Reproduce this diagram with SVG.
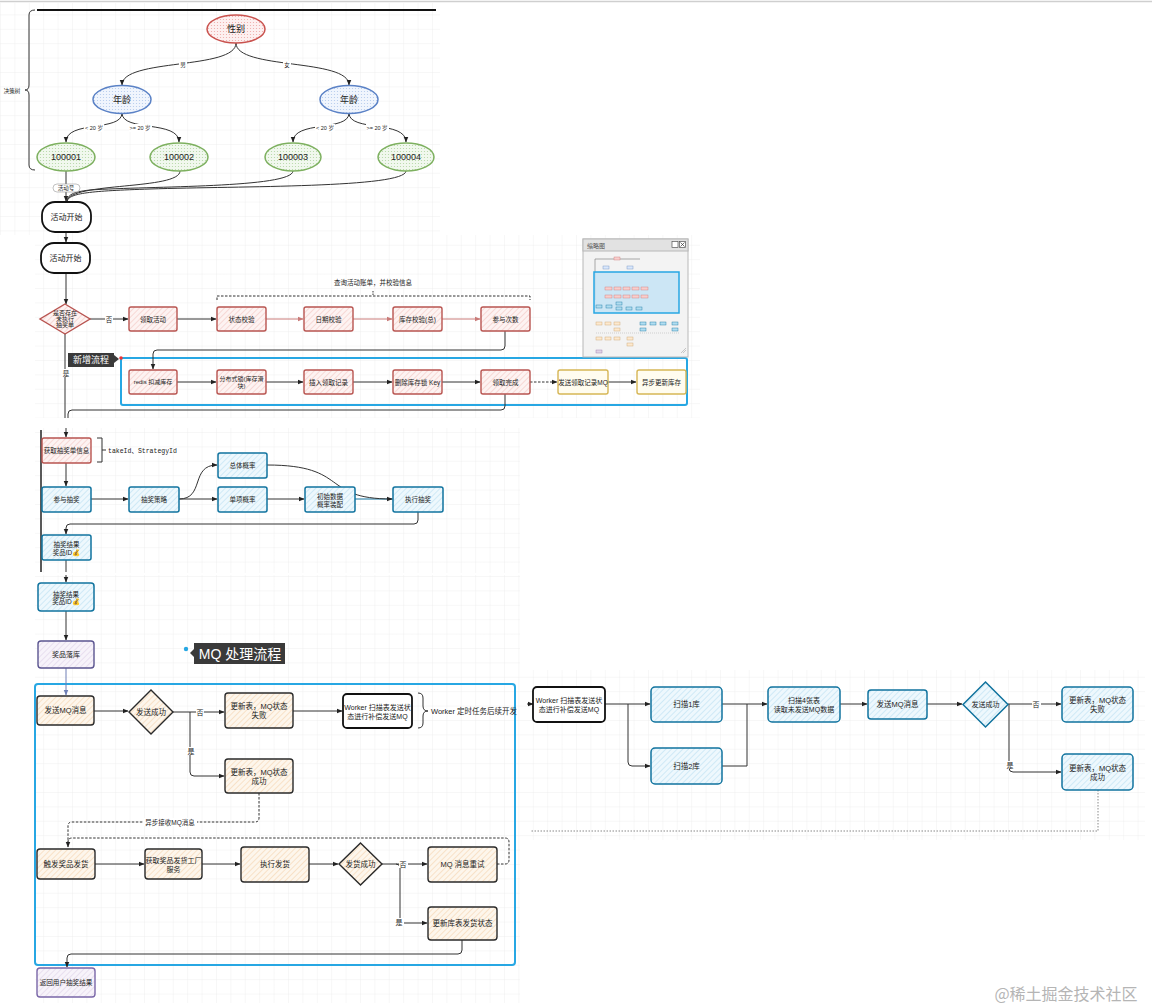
<svg xmlns="http://www.w3.org/2000/svg" width="1152" height="1008" viewBox="0 0 1152 1008">
<defs>
<pattern id="grid" width="14.4" height="14.4" patternUnits="userSpaceOnUse"><path d="M14.4 0 L0 0 0 14.4" fill="none" stroke="#e9e9e9" stroke-width="0.7"/></pattern>
<pattern id="hR" width="4" height="4" patternUnits="userSpaceOnUse" patternTransform="rotate(45)"><rect width="4" height="4" fill="#fdf3f2"/><line x1="0" y1="0" x2="0" y2="4" stroke="#f1b8b1" stroke-width="0.9"/></pattern>
<pattern id="hB" width="4" height="4" patternUnits="userSpaceOnUse" patternTransform="rotate(45)"><rect width="4" height="4" fill="#eef8fd"/><line x1="0" y1="0" x2="0" y2="4" stroke="#a9d7ee" stroke-width="0.9"/></pattern>
<pattern id="hO" width="4" height="4" patternUnits="userSpaceOnUse" patternTransform="rotate(45)"><rect width="4" height="4" fill="#fdf6ec"/><line x1="0" y1="0" x2="0" y2="4" stroke="#f3c79a" stroke-width="0.9"/></pattern>
<pattern id="hP" width="4" height="4" patternUnits="userSpaceOnUse" patternTransform="rotate(45)"><rect width="4" height="4" fill="#f7f3fa"/><line x1="0" y1="0" x2="0" y2="4" stroke="#d6c8e2" stroke-width="0.9"/></pattern>
<pattern id="dR" width="3" height="3" patternUnits="userSpaceOnUse"><rect width="3" height="3" fill="#fdf0f0"/><circle cx="1.5" cy="1.5" r="0.6" fill="#eea9a6"/></pattern>
<pattern id="dB" width="3" height="3" patternUnits="userSpaceOnUse"><rect width="3" height="3" fill="#f0f5fd"/><circle cx="1.5" cy="1.5" r="0.6" fill="#b2c9ec"/></pattern>
<pattern id="dG" width="3" height="3" patternUnits="userSpaceOnUse"><rect width="3" height="3" fill="#f1f8ee"/><circle cx="1.5" cy="1.5" r="0.6" fill="#b3d7a3"/></pattern>
<marker id="a" viewBox="0 0 10 10" refX="9" refY="5" markerWidth="6" markerHeight="6" markerUnits="userSpaceOnUse" orient="auto"><path d="M0,1 L10,5 L0,9 Z" fill="#222"/></marker>
<marker id="ar" viewBox="0 0 10 10" refX="9" refY="5" markerWidth="6" markerHeight="6" markerUnits="userSpaceOnUse" orient="auto"><path d="M0,1 L10,5 L0,9 Z" fill="#c97a78"/></marker>
<marker id="ab" viewBox="0 0 10 10" refX="9" refY="5" markerWidth="6" markerHeight="6" markerUnits="userSpaceOnUse" orient="auto"><path d="M0,1 L10,5 L0,9 Z" fill="#6f7fb5"/></marker>
<style>
text{font-family:"Liberation Sans","Noto Sans CJK SC",sans-serif;fill:#222;text-anchor:middle;dominant-baseline:central}
.t5{font-size:5.5px}.t6{font-size:6.5px}.t7{font-size:7px}.t75{font-size:7.5px}.t8{font-size:8px}.t9{font-size:9px}
.r{fill:url(#hR);stroke:#b85450;stroke-width:1.4}
.b{fill:url(#hB);stroke:#10739e;stroke-width:1.5}
.o{fill:url(#hO);stroke:#2a2a2a;stroke-width:1.4}
.p{fill:url(#hP);stroke:#7a67a8;stroke-width:1.4}
.y{fill:#fffcef;stroke:#d6b656;stroke-width:1.4}
.w{fill:#fff;stroke:#111;stroke-width:1.8}
.eR{fill:url(#dR);stroke:#c9524e;stroke-width:1.5}
.eB{fill:url(#dB);stroke:#5b82c6;stroke-width:1.5}
.eG{fill:url(#dG);stroke:#7db05f;stroke-width:1.5}
.e{fill:none;stroke:#333;stroke-width:1}
.er{fill:none;stroke:#c97a78;stroke-width:1}
.dash{fill:none;stroke:#333;stroke-width:1;stroke-dasharray:2.5 1.5}
.lbl{fill:#fff}
</style>
</defs>

<rect width="1152" height="1008" fill="#fff"/>
<line x1="0" y1="1.5" x2="1152" y2="1.5" stroke="#cfcfcf" stroke-width="1.5"/>
<rect x="0" y="3" width="440" height="232" fill="url(#grid)"/>
<rect x="35" y="235" width="665" height="183" fill="url(#grid)"/>
<rect x="35" y="428" width="485" height="145" fill="url(#grid)"/>
<rect x="35" y="575" width="485" height="428" fill="url(#grid)"/>
<rect x="520" y="670" width="625" height="170" fill="url(#grid)"/>

<!-- decoration -->
<line x1="37" y1="10" x2="436" y2="10" stroke="#111" stroke-width="2"/>
<path d="M35,10 Q29,10 29,15 L29,85 Q29,90 25,90 Q29,90 29,95 L29,165 Q29,170 35,170" fill="none" stroke="#333" stroke-width="1"/>
<text x="12" y="91" class="t5">决策树</text>
<line x1="41" y1="430" x2="41" y2="572" stroke="#222" stroke-width="1.5"/>

<!-- containers -->
<rect x="121" y="358" width="566" height="47" rx="2" fill="none" stroke="#27a7e3" stroke-width="2"/>
<rect x="35" y="684" width="480" height="281" rx="3" fill="none" stroke="#27a7e3" stroke-width="2"/>

<g id="edges">
<path class="e" d="M236,43 C236,70 122,58 122,85" marker-end="url(#a)"/>
<path class="e" d="M236,43 C236,70 349,58 349,85" marker-end="url(#a)"/>
<path class="e" d="M122,113 C122,132 66,120 66,142" marker-end="url(#a)"/>
<path class="e" d="M122,113 C122,132 179,120 179,142" marker-end="url(#a)"/>
<path class="e" d="M349,113 C349,132 293,120 293,142" marker-end="url(#a)"/>
<path class="e" d="M349,113 C349,132 406,120 406,142" marker-end="url(#a)"/>
<path class="e" d="M66,171 L66,201" marker-end="url(#a)"/>
<path class="e" d="M180,171 C180,190 70,182 67,201"/>
<path class="e" d="M293,171 C292,188 150,186 90,190 C72,192 68,195 67,201"/>
<path class="e" d="M406,171 C405,188 240,186 150,189 C90,191 70,193 67,201"/>
<path class="e" d="M66,232 L66,242" marker-end="url(#a)"/>
<path class="e" d="M66,273 L66,304" marker-end="url(#a)"/>
<path class="e" d="M89,319 L128,319" marker-end="url(#a)"/>
<path class="e" d="M177,319 L216,319" marker-end="url(#a)"/>
<path class="er" d="M266,319 L303,319" marker-end="url(#ar)"/>
<path class="er" d="M353,319 L392,319" marker-end="url(#ar)"/>
<path class="er" d="M442,319 L480,319" marker-end="url(#ar)"/>
<path class="dash" d="M217,300 L217,296 L530,296 L530,300"/>
<line x1="373" y1="291" x2="373" y2="296" stroke="#333" stroke-width="1" stroke-dasharray="1.5 1"/>
<path class="e" d="M505,331 L505,346 Q505,350 501,350 L157,350 Q153,350 153,354 L153,369" marker-end="url(#a)"/>
<path class="e" d="M177,382 L216,382" marker-end="url(#a)"/>
<path class="e" d="M266,382 L303,382" marker-end="url(#a)"/>
<path class="e" d="M353,382 L392,382" marker-end="url(#a)"/>
<path class="e" d="M442,382 L480,382" marker-end="url(#a)"/>
<path class="dash" d="M530,382 L557,382" marker-end="url(#a)"/>
<path class="e" d="M608,382 L636,382" marker-end="url(#a)"/>
<path class="e" d="M505,394 L505,406 Q505,410 501,410 L72,410 Q68,410 68,414 L68,418"/>
<path class="e" d="M65,333 L65,418"/>
<path class="e" d="M66,428 L66,437" marker-end="url(#a)"/>
<path class="e" d="M97,438 L102,438 L102,462 L97,462 M102,450 L106,450"/>
<path class="e" d="M66,463 L66,486" marker-end="url(#a)"/>
<path class="e" d="M91,499 L128,499" marker-end="url(#a)"/>
<path class="e" d="M179,499 L217,499" marker-end="url(#a)"/>
<path class="e" d="M179,499 C205,499 190,465 217,465" marker-end="url(#a)"/>
<path class="e" d="M267,499 L304,499" marker-end="url(#a)"/>
<path d="M355,499 L393,499" fill="none" stroke="#10739e" stroke-width="1"/>
<path class="e" d="M267,465 C350,465 320,499 392,499" marker-end="url(#a)"/>
<path class="e" d="M418,512 L418,520 Q418,524 414,524 L70,524 Q66,524 66,528 L66,534" marker-end="url(#a)"/>
<path class="e" d="M66,560 L66,572"/>
<path class="e" d="M66,575 L66,582" marker-end="url(#a)"/>
<path class="e" d="M66,611 L66,640" marker-end="url(#a)"/>
<path d="M66,668 L66,695" fill="none" stroke="#6f7fb5" stroke-width="1" marker-end="url(#ab)"/>
<path class="e" d="M94,711 L128,711" marker-end="url(#a)"/>
<path class="e" d="M173,712 L224,712" marker-end="url(#a)"/>
<path class="e" d="M190,712 L190,772 Q190,776 194,776 L224,776" marker-end="url(#a)"/>
<path class="e" d="M293,711 L342,711" marker-end="url(#a)"/>
<path class="e" d="M418,693 Q423,693 423,698 L423,706 Q423,711 428,711 Q423,711 423,716 L423,723 Q423,728 418,728"/>
<path class="dash" d="M259,793 L259,818 Q259,822 255,822 L72,822 Q68,822 68,826 L68,847" marker-end="url(#a)"/>
<path class="dash" d="M497,864 L505,864 Q509,864 509,860 L509,842 Q509,838 505,838 L72,838 Q68,838 68,842"/>
<path class="e" d="M95,864 L144,864" marker-end="url(#a)"/>
<path class="e" d="M202,864 L240,864" marker-end="url(#a)"/>
<path class="e" d="M309,864 L338,864" marker-end="url(#a)"/>
<path class="e" d="M382,864 L427,864" marker-end="url(#a)"/>
<path class="e" d="M396,864 Q400,864 400,868 L400,919 Q400,923 404,923 L427,923" marker-end="url(#a)"/>
<path class="e" d="M462,940 L462,950 Q462,954 458,954 L71,954 Q67,954 67,958 L67,967" marker-end="url(#a)"/>
<path class="e" d="M527,704 L533,704" marker-end="url(#a)"/>
<path class="e" d="M605,704 L650,704" marker-end="url(#a)"/>
<path class="e" d="M628,704 L628,762 Q628,766 632,766 L650,766" marker-end="url(#a)"/>
<path class="e" d="M722,704 L767,704" marker-end="url(#a)"/>
<path class="e" d="M722,766 L747,766 L747,704"/>
<path class="e" d="M840,704 L867,704" marker-end="url(#a)"/>
<path class="e" d="M927,704 L962,704" marker-end="url(#a)"/>
<path class="e" d="M1008,704 L1061,704" marker-end="url(#a)"/>
<path class="e" d="M1009,704 L1009,768 Q1009,772 1013,772 L1061,772" marker-end="url(#a)"/>
<path d="M1098,790 L1098,831 L530,831" fill="none" stroke="#888" stroke-width="1" stroke-dasharray="1.5 1.5"/>
<!-- edge labels -->
<rect x="179" y="61" width="8" height="8" class="lbl"/><text x="183" y="65" class="t5">男</text>
<rect x="283" y="61" width="8" height="8" class="lbl"/><text x="287" y="65" class="t5">女</text>
<rect x="84" y="124" width="20" height="8" class="lbl"/><text x="94" y="128" class="t5">&lt; 20 岁</text>
<rect x="129" y="124" width="23" height="8" class="lbl"/><text x="140" y="128" class="t5">&gt;= 20 岁</text>
<rect x="315" y="124" width="20" height="8" class="lbl"/><text x="325" y="128" class="t5">&lt; 20 岁</text>
<rect x="366" y="124" width="23" height="8" class="lbl"/><text x="377" y="128" class="t5">&gt;= 20 岁</text>
<rect x="53" y="184" width="27" height="8" rx="4" fill="#fff" stroke="#999" stroke-width="0.6"/><text x="66" y="188" class="t5">活动号</text>
<rect x="105" y="315" width="8" height="8" class="lbl"/><text x="109" y="319" class="t6">否</text>
<rect x="61" y="369" width="9" height="8" class="lbl"/><text x="66" y="373" class="t6">是</text>
<text x="373" y="282" class="t6">查询活动账单，并校验信息</text>
<text x="108" y="451" class="t6" style="text-anchor:start;font-family:'Liberation Mono','DejaVu Sans Mono','Noto Sans CJK SC',monospace">takeId、StrategyId</text>
<rect x="196" y="708" width="8" height="8" class="lbl"/><text x="200" y="712" class="t7">否</text>
<rect x="186" y="747" width="9" height="8" class="lbl"/><text x="191" y="751" class="t7">是</text>
<text x="474" y="711" class="t75">Worker 定时任务后续开发</text>
<rect x="143" y="818" width="54" height="8" class="lbl"/><text x="170" y="822" class="t6">异步接收MQ消息</text>
<rect x="399" y="860" width="9" height="8" class="lbl"/><text x="403" y="864" class="t7">否</text>
<rect x="395" y="918" width="9" height="8" class="lbl"/><text x="399" y="922" class="t7">是</text>
<rect x="1032" y="700" width="9" height="8" class="lbl"/><text x="1036" y="704" class="t7">否</text>
<rect x="1006" y="761" width="9" height="8" class="lbl"/><text x="1010" y="765" class="t7">是</text>
</g>

<!-- decision tree -->
<g id="n-gender"><ellipse cx="236" cy="29" rx="29" ry="14" class="eR"/><text x="236" y="29" class="t9">性别</text></g>
<g id="n-age-l"><ellipse cx="122" cy="99.5" rx="29" ry="14" class="eB"/><text x="122" y="99.5" class="t9">年龄</text></g>
<g id="n-age-r"><ellipse cx="349" cy="99.5" rx="29" ry="14" class="eB"/><text x="349" y="99.5" class="t9">年龄</text></g>
<g id="n-100001"><ellipse cx="66" cy="157" rx="29" ry="14" class="eG"/><text x="66" y="157" class="t9">100001</text></g>
<g id="n-100002"><ellipse cx="179" cy="157" rx="29" ry="14" class="eG"/><text x="179" y="157" class="t9">100002</text></g>
<g id="n-100003"><ellipse cx="293" cy="157" rx="28" ry="14" class="eG"/><text x="293" y="157" class="t9">100003</text></g>
<g id="n-100004"><ellipse cx="406" cy="157" rx="28" ry="14" class="eG"/><text x="406" y="157" class="t9">100004</text></g>
<g id="n-start1"><rect x="42" y="202" width="49" height="30" rx="13" class="w"/><text x="66.5" y="217" class="t8">活动开始</text></g>

<!-- activity flow -->
<g id="n-start2"><rect x="41" y="243" width="49" height="30" rx="13" class="w"/><text x="65.5" y="258" class="t8">活动开始</text></g>
<g id="n-exist"><polygon points="65,304 90,319 65,334 40,319" class="r"/><text x="65" y="319" style="font-size:6px"><tspan x="65" dy="-6.3">是否存在</tspan><tspan x="65" dy="6.3">未执行</tspan><tspan x="65" dy="6.3">抽奖单</tspan></text></g>
<g id="n-take"><rect x="129" y="307" width="48" height="24" rx="2" class="r"/><text x="153" y="319" class="t6">领取活动</text></g>
<g id="n-state"><rect x="217" y="307" width="49" height="24" rx="2" class="r"/><text x="241.5" y="319" class="t6">状态校验</text></g>
<g id="n-date"><rect x="304" y="307" width="49" height="24" rx="2" class="r"/><text x="328.5" y="319" class="t6">日期校验</text></g>
<g id="n-stock"><rect x="393" y="307" width="49" height="24" rx="2" class="r"/><text x="417.5" y="319" class="t6">库存校验(总)</text></g>
<g id="n-count"><rect x="481" y="307" width="49" height="24" rx="2" class="r"/><text x="505.5" y="319" class="t6">参与次数</text></g>
<g id="n-tag-new"><path d="M68,353 L114,353 L114,355 L119,359 L114,363 L114,367 L68,367 Z" fill="#3a3a3a"/><text x="91" y="360" class="t9" style="fill:#fff">新增流程</text><circle cx="121" cy="358" r="1.8" fill="#e33"/></g>
<g id="n-redis"><rect x="129" y="370" width="48" height="24" rx="2" class="r"/><text x="153" y="382" style="font-size:6px">redis 扣减库存</text></g>
<g id="n-lock"><rect x="217" y="370" width="49" height="24" rx="2" class="r"/><text x="241.5" y="382" style="font-size:6px"><tspan x="241.5" dy="-3.5">分布式锁(库存滑</tspan><tspan x="241.5" dy="7">块)</tspan></text></g>
<g id="n-insert"><rect x="304" y="370" width="49" height="24" rx="2" class="r"/><text x="328.5" y="382" class="t6">插入领取记录</text></g>
<g id="n-del"><rect x="393" y="370" width="49" height="24" rx="2" class="r"/><text x="417.5" y="382" class="t6">删除库存锁 Key</text></g>
<g id="n-done"><rect x="481" y="370" width="49" height="24" rx="2" class="r"/><text x="505.5" y="382" class="t6">领取完成</text></g>
<g id="n-sendmq"><rect x="558" y="370" width="50" height="24" rx="2" class="y"/><text x="583" y="382" class="t6">发送领取记录MQ</text></g>
<g id="n-async"><rect x="637" y="370" width="49" height="24" rx="2" class="y"/><text x="661.5" y="382" class="t6">异步更新库存</text></g>

<!-- draw flow -->
<g id="n-getorder"><rect x="42" y="438" width="49" height="25" rx="2" class="r"/><text x="66.5" y="450.5" class="t6">获取抽奖单信息</text></g>
<g id="n-join"><rect x="42" y="487" width="49" height="25" rx="2" class="b"/><text x="66.5" y="499.5" class="t6">参与抽奖</text></g>
<g id="n-strategy"><rect x="129" y="487" width="50" height="25" rx="2" class="b"/><text x="154" y="499.5" class="t6">抽奖策略</text></g>
<g id="n-total"><rect x="218" y="453" width="49" height="25" rx="2" class="b"/><text x="242.5" y="465.5" class="t6">总体概率</text></g>
<g id="n-single"><rect x="218" y="487" width="49" height="25" rx="2" class="b"/><text x="242.5" y="499.5" class="t6">单项概率</text></g>
<g id="n-init"><rect x="305" y="487" width="50" height="25" rx="2" class="b"/><text x="330" y="499.5" class="t6"><tspan x="330" dy="-3.5">初始数据</tspan><tspan x="330" dy="7.5">概率装配</tspan></text></g>
<g id="n-exec"><rect x="393" y="487" width="50" height="25" rx="2" class="b"/><text x="418" y="499.5" class="t6">执行抽奖</text></g>
<g id="n-result1"><rect x="42" y="535" width="49" height="25" rx="2" class="b"/><text x="66.5" y="547.5" class="t6"><tspan x="66.5" dy="-3.5">抽奖结果</tspan><tspan x="66.5" dy="7.5">奖品ID💰</tspan></text></g>

<!-- result / MQ -->
<g id="n-result2"><rect x="38" y="583" width="56" height="28" rx="3" class="b"/><text x="66" y="597" class="t6"><tspan x="66" dy="-3.5">抽奖结果</tspan><tspan x="66" dy="7.5">奖品ID💰</tspan></text></g>
<g id="n-save"><rect x="38" y="641" width="56" height="27" rx="3" class="p" style="stroke:#5b5590"/><text x="66" y="654.5" class="t7">奖品落库</text></g>
<g id="n-tag-mq"><circle cx="186" cy="649" r="2.2" fill="#27a7e3"/><path d="M194,643 L285,643 L285,664 L194,664 L194,657 L190,653 L194,649 Z" fill="#3a3a3a"/><text x="240" y="653.5" style="font-size:14px;fill:#fff">MQ 处理流程</text></g>
<g id="n-mq"><rect x="37" y="696" width="57" height="29" rx="3" class="o"/><text x="65.5" y="710.5" class="t75">发送MQ消息</text></g>
<g id="n-ok1"><polygon points="151,690 173,712 151,734 129,712" class="o"/><text x="151" y="712" class="t75">发送成功</text></g>
<g id="n-fail1"><rect x="225" y="693" width="68" height="35" rx="3" class="o"/><text x="259" y="710.5" class="t75"><tspan x="259" dy="-4.5">更新表，MQ状态</tspan><tspan x="259" dy="9">失败</tspan></text></g>
<g id="n-succ1"><rect x="225" y="759" width="68" height="34" rx="3" class="o"/><text x="259" y="776" class="t75"><tspan x="259" dy="-4.5">更新表，MQ状态</tspan><tspan x="259" dy="9">成功</tspan></text></g>
<g id="n-worker1"><rect x="343" y="694" width="69" height="34" rx="4" class="w"/><text x="377.5" y="711" class="t7"><tspan x="377.5" dy="-4.5">Worker 扫描表发送状</tspan><tspan x="377.5" dy="9">态进行补偿发送MQ</tspan></text></g>
<g id="n-trigger"><rect x="37" y="849" width="58" height="30" rx="3" class="o"/><text x="66" y="864" class="t75">触发奖品发货</text></g>
<g id="n-factory"><rect x="145" y="849" width="57" height="30" rx="3" class="o"/><text x="173.5" y="864" class="t7"><tspan x="173.5" dy="-4.5">获取奖品发货工厂</tspan><tspan x="173.5" dy="9">服务</tspan></text></g>
<g id="n-ship"><rect x="241" y="847" width="68" height="35" rx="3" class="o"/><text x="275" y="864.5" class="t75">执行发货</text></g>
<g id="n-ok2"><polygon points="360.5,843 382,864 360.5,885 339,864" class="o"/><text x="360.5" y="864" class="t75">发货成功</text></g>
<g id="n-retry"><rect x="428" y="847" width="69" height="35" rx="3" class="o"/><text x="462.5" y="864.5" class="t75">MQ 消息重试</text></g>
<g id="n-upd"><rect x="428" y="907" width="69" height="33" rx="3" class="o"/><text x="462.5" y="923.5" class="t75">更新库表发货状态</text></g>
<g id="n-return"><rect x="37" y="968" width="58" height="29" rx="3" class="p"/><text x="66" y="982.5" style="font-size:6.6px">返回用户抽奖结果</text></g>

<!-- worker flow -->
<g id="n-worker2"><rect x="533" y="687" width="72" height="35" rx="4" class="w"/><text x="569" y="704.5" class="t7"><tspan x="569" dy="-4.5">Worker 扫描表发送状</tspan><tspan x="569" dy="9">态进行补偿发送MQ</tspan></text></g>
<g id="n-scan1"><rect x="651" y="687" width="71" height="35" rx="4" class="b"/><text x="686.5" y="704.5" class="t75">扫描1库</text></g>
<g id="n-scan2"><rect x="651" y="748" width="71" height="36" rx="4" class="b"/><text x="686.5" y="766" class="t75">扫描2库</text></g>
<g id="n-scan4"><rect x="768" y="687" width="72" height="35" rx="4" class="b"/><text x="804" y="704.5" class="t7"><tspan x="804" dy="-4.5">扫描4张表</tspan><tspan x="804" dy="9">读取未发送MQ数据</tspan></text></g>
<g id="n-mq2"><rect x="868" y="690" width="59" height="29" rx="3" class="b"/><text x="897.5" y="704.5" class="t75">发送MQ消息</text></g>
<g id="n-ok3"><polygon points="985.5,682 1008,704.5 985.5,727 963,704.5" class="b"/><text x="985.5" y="704.5" class="t7">发送成功</text></g>
<g id="n-fail2"><rect x="1062" y="687" width="71" height="35" rx="4" class="b"/><text x="1097.5" y="704.5" class="t75"><tspan x="1097.5" dy="-4.5">更新表，MQ状态</tspan><tspan x="1097.5" dy="9">失败</tspan></text></g>
<g id="n-succ2"><rect x="1062" y="754" width="71" height="36" rx="4" class="b"/><text x="1097.5" y="772" class="t75"><tspan x="1097.5" dy="-4.5">更新表，MQ状态</tspan><tspan x="1097.5" dy="9">成功</tspan></text></g>

<!-- minimap window -->
<g id="minimap">
<rect x="583" y="239" width="105" height="118" fill="#f3f3f3" stroke="#b8b8b8" stroke-width="1"/>
<rect x="583" y="239" width="105" height="12" fill="#e2e2e2" stroke="#b8b8b8" stroke-width="1"/>
<text x="596" y="245.5" style="font-size:6px;fill:#555">缩略图</text>
<rect x="672" y="241.5" width="6" height="6" fill="#fff" stroke="#555" stroke-width="0.7"/>
<rect x="679.5" y="241.5" width="6" height="6" fill="#fff" stroke="#555" stroke-width="0.7"/>
<path d="M680.5,242.5 L684.5,246.5 M684.5,242.5 L680.5,246.5" stroke="#333" stroke-width="0.7"/>
<path d="M595,259 L640,259 M595,259 L595,300" stroke="#777" stroke-width="0.6" fill="none"/>
<rect x="614" y="257" width="6" height="3" fill="#f8cecc" stroke="#c77" stroke-width="0.4"/>
<rect x="603" y="266" width="6" height="3" fill="#dae8fc" stroke="#6c8ebf" stroke-width="0.4"/>
<rect x="627" y="266" width="6" height="3" fill="#dae8fc" stroke="#6c8ebf" stroke-width="0.4"/>
<rect x="594" y="272" width="85" height="41" fill="#bfe1f6" fill-opacity="0.75" stroke="#27a7e3" stroke-width="1.5"/>
<g fill="#f8cecc" stroke="#c77" stroke-width="0.4">
<rect x="605" y="287" width="7" height="3"/><rect x="614" y="287" width="7" height="3"/><rect x="623" y="287" width="7" height="3"/><rect x="632" y="287" width="7" height="3"/><rect x="641" y="287" width="7" height="3"/>
<rect x="605" y="295" width="7" height="3"/><rect x="614" y="295" width="7" height="3"/><rect x="623" y="295" width="7" height="3"/><rect x="632" y="295" width="7" height="3"/><rect x="641" y="295" width="7" height="3"/>
</g>
<g fill="#b1ddf0" stroke="#10739e" stroke-width="0.4">
<rect x="596" y="305" width="6" height="3"/><rect x="606" y="305" width="6" height="3"/><rect x="616" y="302" width="6" height="3"/><rect x="616" y="307" width="6" height="3"/><rect x="626" y="307" width="6" height="3"/><rect x="636" y="307" width="6" height="3"/>
</g>
<g fill="#fde9cf" stroke="#c9a06b" stroke-width="0.4">
<rect x="596" y="322" width="6" height="3"/><rect x="605" y="322" width="6" height="3"/><rect x="614" y="322" width="6" height="3"/><rect x="614" y="328" width="6" height="3"/>
<rect x="596" y="337" width="6" height="3"/><rect x="605" y="337" width="6" height="3"/><rect x="614" y="337" width="6" height="3"/><rect x="627" y="337" width="6" height="3"/><rect x="627" y="343" width="6" height="3"/>
</g>
<g fill="#b1ddf0" stroke="#10739e" stroke-width="0.4">
<rect x="640" y="322" width="6" height="3"/><rect x="640" y="328" width="6" height="3"/><rect x="650" y="322" width="6" height="3"/><rect x="660" y="322" width="6" height="3"/><rect x="672" y="322" width="6" height="3"/><rect x="672" y="328" width="6" height="3"/>
</g>
<rect x="596" y="350" width="6" height="3" fill="#e1d5e7" stroke="#9673a6" stroke-width="0.4"/>
<path d="M596,333 L680,333" stroke="#999" stroke-width="0.4" stroke-dasharray="1 1"/>
<path d="M683,353 L686,350 M681,353 L686,348" stroke="#999" stroke-width="0.5"/>
</g>

<text x="1066" y="993" style="font-size:16px;fill:#b5b5b5;font-family:'Noto Sans CJK SC',sans-serif">@稀土掘金技术社区</text>
</svg>
